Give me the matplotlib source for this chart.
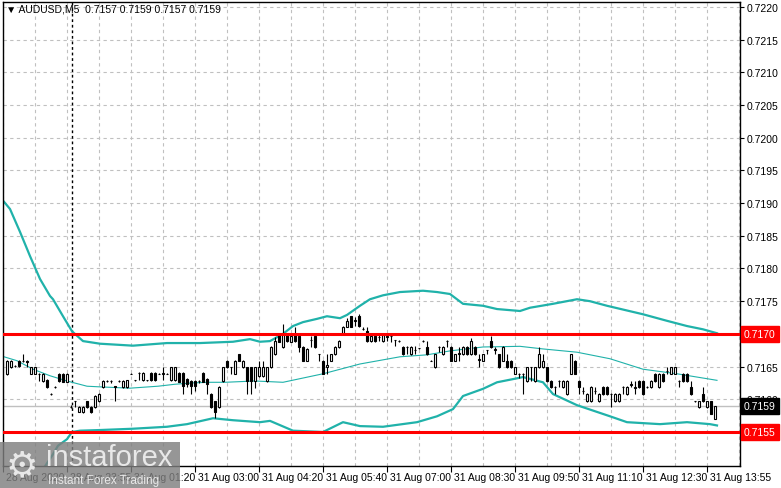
import numpy as np
import matplotlib.pyplot as plt
from matplotlib.patches import Rectangle
from matplotlib.transforms import blended_transform_factory

plt.rcParams['font.family'] = ['Liberation Sans', 'DejaVu Sans']

# prices are kept in points (0.00001) above 0.71500
BASE = 0.715
PT = 0.00001

opens = [139, 149, 151, 159, 159, 158, 139, 139, 139, 128, 130, 108, 119, 139, 139, 127,
         88, 97, 81, 80, 97, 88, 88, 97, 119, 128, 128, 120, 128, 119, 119, 139,
         129, 140, 129, 129, 140, 140, 139, 139, 139, 129, 129, 140, 140, 131, 128, 128,
         128, 140, 131, 108, 97, 88, 128, 159, 149, 139, 169, 149, 149, 149, 128, 135,
         135, 128, 149, 169, 200, 180, 200, 188, 200, 197, 180, 159, 190, 197, 169, 159,
         150, 159, 169, 180, 200, 211, 227, 220, 227, 208, 205, 189, 197, 195, 189, 196,
         197, 190, 189, 180, 180, 169, 175, 178, 189, 180, 159, 149, 180, 169, 189, 180,
         159, 170, 169, 180, 169, 180, 160, 159, 175, 189, 176, 169, 159, 159, 159, 139,
         139, 139, 128, 149, 128, 149, 149, 149, 128, 119, 128, 119, 108, 139, 159, 128,
         112, 97, 97, 112, 97, 119, 119, 108, 97, 97, 119, 108, 122, 118, 128, 128,
         119, 119, 139, 119, 139, 143, 139, 139, 128, 139, 139, 119, 97, 88, 108, 88,
         97, 70]
highs = [160, 160, 152, 160, 170, 160, 150, 150, 140, 140, 131, 109, 120, 140, 140, 140,
         92, 98, 89, 89, 98, 89, 106, 109, 129, 129, 129, 121, 129, 129, 130, 140,
         130, 141, 141, 130, 141, 141, 140, 150, 140, 150, 150, 141, 141, 132, 129, 130,
         129, 141, 132, 109, 98, 120, 150, 160, 150, 160, 170, 160, 150, 150, 150, 158,
         159, 150, 181, 195, 201, 215, 201, 199, 211, 198, 181, 178, 197, 198, 170, 160,
         169, 170, 181, 190, 212, 225, 228, 226, 230, 210, 211, 200, 200, 200, 199, 200,
         199, 191, 190, 181, 181, 181, 181, 179, 190, 189, 160, 170, 181, 181, 190, 181,
         170, 180, 181, 181, 194, 181, 169, 170, 176, 197, 180, 170, 181, 169, 160, 150,
         140, 140, 150, 150, 150, 180, 169, 150, 129, 120, 129, 129, 129, 170, 160, 129,
         119, 109, 120, 119, 109, 120, 120, 109, 109, 109, 120, 120, 128, 128, 129, 129,
         120, 129, 140, 140, 140, 149, 150, 150, 129, 140, 140, 128, 98, 98, 119, 98,
         98, 90]
lows = [137, 148, 150, 150, 157, 149, 138, 138, 128, 127, 118, 107, 118, 127, 126, 126,
        86, 88, 80, 79, 87, 79, 87, 96, 118, 127, 125, 97, 127, 118, 118, 138,
        128, 129, 128, 128, 128, 128, 138, 129, 138, 128, 128, 126, 108, 119, 108, 112,
        125, 126, 108, 87, 71, 87, 127, 148, 139, 138, 158, 148, 108, 108, 118, 134,
        134, 127, 148, 168, 187, 179, 188, 187, 188, 172, 158, 158, 180, 179, 159, 138,
        139, 158, 168, 179, 199, 210, 210, 212, 211, 206, 188, 188, 188, 189, 188, 189,
        188, 182, 188, 168, 169, 168, 169, 177, 188, 168, 158, 148, 172, 168, 180, 158,
        158, 159, 168, 168, 168, 168, 149, 158, 169, 179, 169, 148, 158, 148, 148, 138,
        133, 108, 127, 128, 127, 148, 148, 127, 118, 108, 119, 118, 107, 138, 138, 108,
        108, 96, 96, 108, 96, 107, 107, 88, 96, 96, 108, 107, 119, 108, 118, 107,
        118, 118, 127, 118, 127, 139, 138, 138, 119, 127, 127, 107, 96, 87, 96, 87,
        77, 70]
closes = [158, 159, 151, 151, 159, 157, 149, 149, 139, 139, 119, 108, 119, 128, 127, 139,
          88, 97, 88, 88, 88, 80, 105, 108, 128, 128, 128, 119, 128, 128, 129, 139,
          129, 140, 140, 129, 129, 129, 139, 140, 139, 149, 149, 127, 121, 124, 121, 121,
          128, 127, 124, 88, 81, 119, 149, 149, 149, 159, 159, 159, 128, 128, 149, 150,
          149, 149, 180, 189, 188, 200, 189, 197, 189, 180, 159, 177, 191, 180, 169, 139,
          152, 169, 180, 189, 211, 220, 211, 221, 212, 208, 189, 197, 189, 196, 198, 197,
          197, 190, 189, 169, 180, 180, 176, 178, 189, 169, 159, 169, 180, 180, 189, 159,
          169, 171, 180, 169, 189, 169, 161, 169, 175, 180, 177, 149, 180, 149, 149, 149,
          139, 139, 149, 149, 149, 169, 159, 128, 119, 119, 128, 128, 128, 169, 139, 119,
          113, 108, 119, 113, 108, 108, 108, 108, 108, 108, 119, 119, 123, 119, 119, 108,
          119, 128, 128, 139, 128, 144, 149, 149, 128, 128, 128, 108, 97, 97, 97, 97,
          78, 90]

# Bollinger bands: (bar position, points)
upper_x = [-0.75, 0.75, 3.25, 5.75, 8.25, 10.75, 11.5, 14, 16.25, 19, 23.25, 31.5, 40, 48.25,
           56.5, 60.75, 63.25, 65.75, 69, 71.5, 74, 77.5, 80, 83.25, 85, 88.25, 90.75, 94,
           98.25, 104, 107.5, 110.75, 114, 119, 122.5, 128.25, 130.75, 136.5, 142.5, 145.75,
           150, 159, 165, 170, 174, 177.5]
upper_y = [402, 391, 356, 319, 284, 258, 253, 227, 204, 189, 185, 182, 186, 186,
           188, 192, 188, 189, 200, 212, 218, 223, 227, 224, 229, 243, 253, 259,
           264, 266, 264, 261, 246, 243, 238, 235, 240, 246, 253, 250,
           243, 230, 220, 212, 207, 201]
middle_x = [-0.75, 2.5, 6.5, 10.75, 15, 20, 23.25, 30.75, 37.75, 42, 46.25, 50.25, 54.5, 62,
            69, 79, 88.25, 98.25, 105, 110.75, 119, 128.25, 134, 142.5, 150.75, 159, 167.5,
            172.5, 177.5]
middle_y = [165, 159, 146, 136, 128, 120, 119, 117, 120, 123, 125, 126, 126, 128,
            126, 139, 154, 165, 168, 174, 180, 181, 177, 172, 162, 146, 139,
            134, 129]
lower_x = [8.25, 11.5, 12.75, 15, 16.25, 18.25, 23.25, 31.5, 40, 45, 51.5, 56.5, 63.25, 65.75,
           71.5, 79, 84, 88.25, 94, 102.5, 107.5, 111.5, 114, 119, 122.5, 128.25, 129, 134,
           136.5, 142.5, 150.75, 155, 163.25, 170, 175.75, 177.5]
lower_y = [-14, 16, 29, 39, 50, 52, 53, 55, 58, 62, 71, 68, 65, 67,
           52, 50, 65, 59, 58, 65, 74, 85, 105, 116, 126, 133, 134, 126,
           108, 91, 74, 65, 62, 65, 62, 60]

time_pos = [-1, 15, 31, 47, 63, 79, 95, 111, 127, 143, 159, 175]
time_labels = ['28 Aug 2020', '28 Aug 23:55', '31 Aug 01:20', '31 Aug 03:00', '31 Aug 04:20',
               '31 Aug 05:40', '31 Aug 07:00', '31 Aug 08:30', '31 Aug 09:50', '31 Aug 11:10',
               '31 Aug 12:30', '31 Aug 13:55']
price_ticks = [0.7155, 0.7160, 0.7165, 0.7170, 0.7175, 0.7180, 0.7185, 0.7190, 0.7195,
               0.7200, 0.7205, 0.7210, 0.7215, 0.7220]
levels = [0.7170, 0.7155]
bid = 0.7159
separator = 16.25

o = BASE + np.array(opens) * PT
h = BASE + np.array(highs) * PT
l = BASE + np.array(lows) * PT
c = BASE + np.array(closes) * PT
x = np.arange(len(o))
up = c >= o

fig = plt.figure(figsize=(7.81, 4.89), dpi=100, facecolor='white')
ax = fig.add_axes([3 / 781, 1 - 467 / 489, 737 / 781, 464 / 489])
ax.set_xlim(-1, 183.25)
ax.set_ylim(BASE - 2 * PT, BASE + 707.5 * PT)

# grid
grid_kw = dict(color='#c0c0c0', lw=0.8, linestyle=(0, (3, 3)), zorder=0)
for g in np.arange(-1, 184, 8):
    ax.axvline(g, **grid_kw)
for p in price_ticks:
    ax.axhline(p, **grid_kw)

ax.axvline(separator, color='black', lw=1, linestyle=(0, (2, 2)), zorder=1)
ax.axhline(bid, color='#c0c0c0', lw=1, zorder=1)

teal = '#20b2aa'
ax.plot(upper_x, BASE + np.array(upper_y) * PT, color=teal, lw=1.6, zorder=2)
ax.plot(middle_x, BASE + np.array(middle_y) * PT, color=teal, lw=0.8, zorder=2)
ax.plot(lower_x, BASE + np.array(lower_y) * PT, color=teal, lw=1.6, zorder=2)

for lv in levels:
    ax.axhline(lv, color='red', lw=2.2, zorder=5)

# candles
ax.vlines(x, l, h, color='black', lw=0.8, zorder=3)
ax.bar(x[up], (c - o)[up], bottom=o[up], width=0.7, color='white',
       edgecolor='black', lw=0.8, zorder=4)
ax.bar(x[~up], (o - c)[~up], bottom=c[~up], width=0.7, color='black',
       edgecolor='black', lw=0.8, zorder=4)

for s in ax.spines.values():
    s.set_color('black')
    s.set_linewidth(1)

ax.yaxis.tick_right()
ax.set_yticks(price_ticks)
ax.set_yticklabels(['' if p in levels else '%.4f' % p for p in price_ticks])
ax.tick_params(axis='y', labelsize=7.5, length=3, pad=2, colors='black')
ax.set_xticks(time_pos)
ax.set_xticklabels([])
ax.tick_params(axis='x', length=4, direction='out')

tx = blended_transform_factory(ax.transData, ax.transAxes)
for pos, lab in zip(time_pos, time_labels):
    ax.text(pos + 0.8, -0.012, lab, transform=tx, fontsize=7.5, ha='left', va='top',
            clip_on=False)

ty = blended_transform_factory(ax.transAxes, ax.transData)
for lv in levels:
    ax.text(1.005, lv, '%.4f' % lv, transform=ty, fontsize=7.5, color='white', ha='left',
            va='center', clip_on=False, zorder=10,
            bbox=dict(boxstyle='square,pad=0.3', fc='red', ec='red'))
ax.text(1.005, bid, '%.4f' % bid, transform=ty, fontsize=7.5, color='white', ha='left',
        va='center', clip_on=False, zorder=10,
        bbox=dict(boxstyle='square,pad=0.3', fc='black', ec='black'))

fig.text(6 / 781, 1 - 10 / 489, '\u25bc AUDUSD,M5  0.7157 0.7159 0.7157 0.7159',
         fontsize=7.5, va='center', ha='left')

# watermark
fig.patches.append(Rectangle((0, 0), 180 / 781, 46 / 489, transform=fig.transFigure,
                             fc='#7f7f7f', ec='none', alpha=0.82, zorder=20))
fig.text(6 / 781, 1 - 466 / 489, '\u2699', fontsize=26, color='#e8e8e8', va='center',
         ha='left', zorder=21, family='DejaVu Sans')
fig.text(46 / 781, 1 - 458 / 489, 'instaforex', fontsize=21, color='#e8e8e8', va='center',
         ha='left', zorder=21)
fig.text(48 / 781, 1 - 481 / 489, 'Instant Forex Trading', fontsize=8.5, color='#e8e8e8',
         va='center', ha='left', zorder=21)

fig.savefig('out.png', dpi=100)
